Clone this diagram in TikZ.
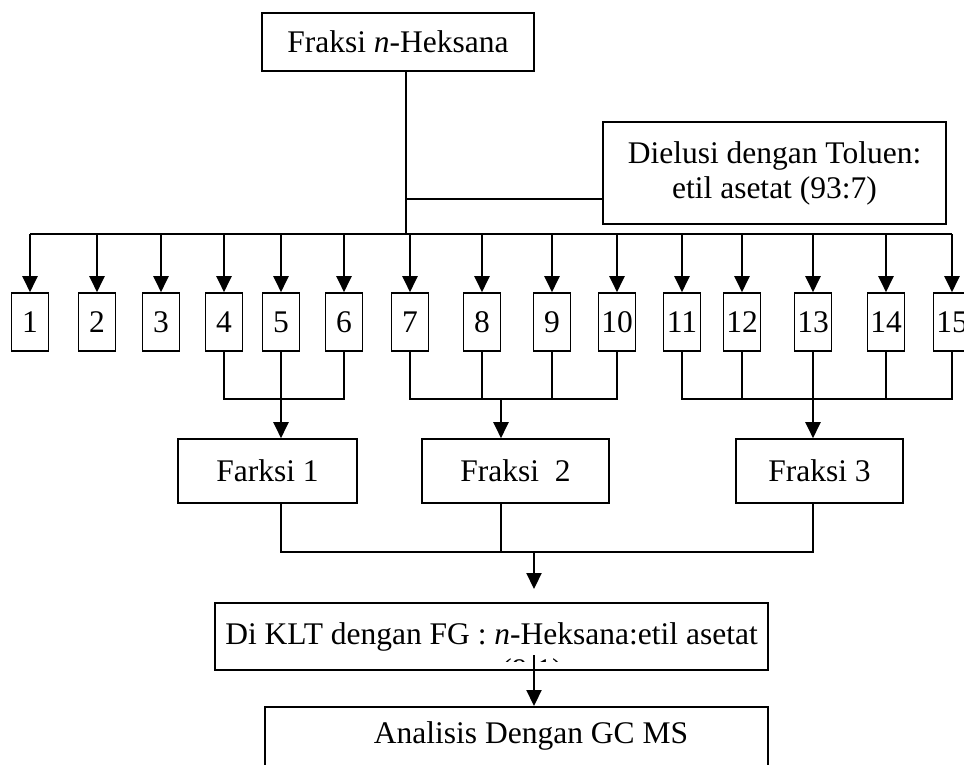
\documentclass[tikz,border=0pt]{standalone}
\usepackage{fontspec}
\setmainfont{Liberation Serif}
\usetikzlibrary{arrows.meta}
\newcommand{\fsz}{\fontsize{31.5}{35}\selectfont}
\begin{document}
\begin{tikzpicture}[x=1pt,y=-1pt,
  box/.style={draw, line width=1.6pt, inner sep=0pt, font=\fsz},
  numbox/.style={box, minimum width=37pt, minimum height=58pt, text height=21.5pt, text depth=0pt},
  arr/.style={line width=2.2pt, -{Triangle[width=15pt,length=16pt]}},
  ln/.style={line width=1.6pt},
]
\useasboundingbox (0,0) rectangle (964,765);
\fill[white] (0,0) rectangle (964,765);
\clip (0,0) rectangle (964,765);

% top boxes
\node[box, minimum width=272pt, minimum height=58pt] (hex) at (398,42) {Fraksi \textit{n}-Heksana};
\node[box, minimum width=343pt, minimum height=102pt, align=center] (elu) at (774.5,173) {Dielusi dengan Toluen:\\etil asetat (93:7)};

% numbered boxes
\foreach \i/\x in {1/30,2/97,3/161,4/224,5/281,6/344,7/410,8/482,9/552,10/617,11/682,12/742,13/813,14/886,15/952}
  \node[numbox] (b\i) at (\x,322) {\i};

\coordinate (top) at (406,234);
\coordinate (jn) at (406,199);
\draw[ln] (hex.south -| top) -- (top);
\draw[ln] (jn) -- (jn -| elu.west);
\draw[ln] (b1.north |- top) -- (b15.north |- top);
\foreach \i in {1,...,15}
  \draw[arr] (b\i.north |- top) -- (b\i.north);

% fraction boxes
\node[box, minimum width=179pt, minimum height=64pt] (f1) at (267.5,471) {Farksi 1};
\node[box, minimum width=187pt, minimum height=64pt] (f2) at (515.5,471) {Fraksi\ \ 2};
\node[box, minimum width=167pt, minimum height=64pt] (f3) at (819.5,471) {Fraksi 3};

% grouping lines
\coordinate (h1) at (0,399);
\coordinate (g2) at (501,399);
\draw[ln] (b4.south) -- (b4.south |- h1) -- (b6.south |- h1) -- (b6.south);
\draw[ln] (b5.south) -- (b5.south |- h1);
\draw[arr] (b5.south |- h1) -- (b5.south |- f1.north);

\draw[ln] (b7.south) -- (b7.south |- h1) -- (b10.south |- h1) -- (b10.south);
\draw[ln] (b8.south) -- (b8.south |- h1);
\draw[ln] (b9.south) -- (b9.south |- h1);
\draw[arr] (g2) -- (g2 |- f2.north);

\draw[ln] (b11.south) -- (b11.south |- h1) -- (b15.south |- h1) -- (b15.south);
\draw[ln] (b12.south) -- (b12.south |- h1);
\draw[ln] (b14.south) -- (b14.south |- h1);
\draw[ln] (b13.south) -- (b13.south |- h1);
\draw[arr] (b13.south |- h1) -- (b13.south |- f3.north);

% merge lines
\coordinate (h2) at (0,552);
\coordinate (g3) at (534,552);
\coordinate (g3e) at (534,589);
\draw[ln] (b5.south |- f1.south) -- (b5.south |- h2) -- (b13.south |- h2) -- (b13.south |- f3.south);
\draw[ln] (g2 |- f2.south) -- (g2 |- h2);
\draw[arr] (g3) -- (g3e);

% KLT box
\node[box, minimum width=553pt, minimum height=67pt] (klt) at (491.5,636.5) {Di KLT dengan FG : \textit{n}-Heksana:etil asetat};
\begin{scope}
  \clip (216,600) rectangle (767,661);
  \node[font=\fsz, anchor=base, inner sep=0pt] (ratio) at (532,680) {(9:1)};
\end{scope}

% GC MS box
\node[box, minimum width=503pt, minimum height=120pt, anchor=north] (gc) at (516.5,706) {};
\node[font=\fsz, anchor=base, inner sep=0pt] (gct) at (531,743) {Analisis Dengan GC MS};
\coordinate (k1) at (534,655);
\draw[arr] (k1) -- (k1 |- gc.north);
\end{tikzpicture}
\end{document}
